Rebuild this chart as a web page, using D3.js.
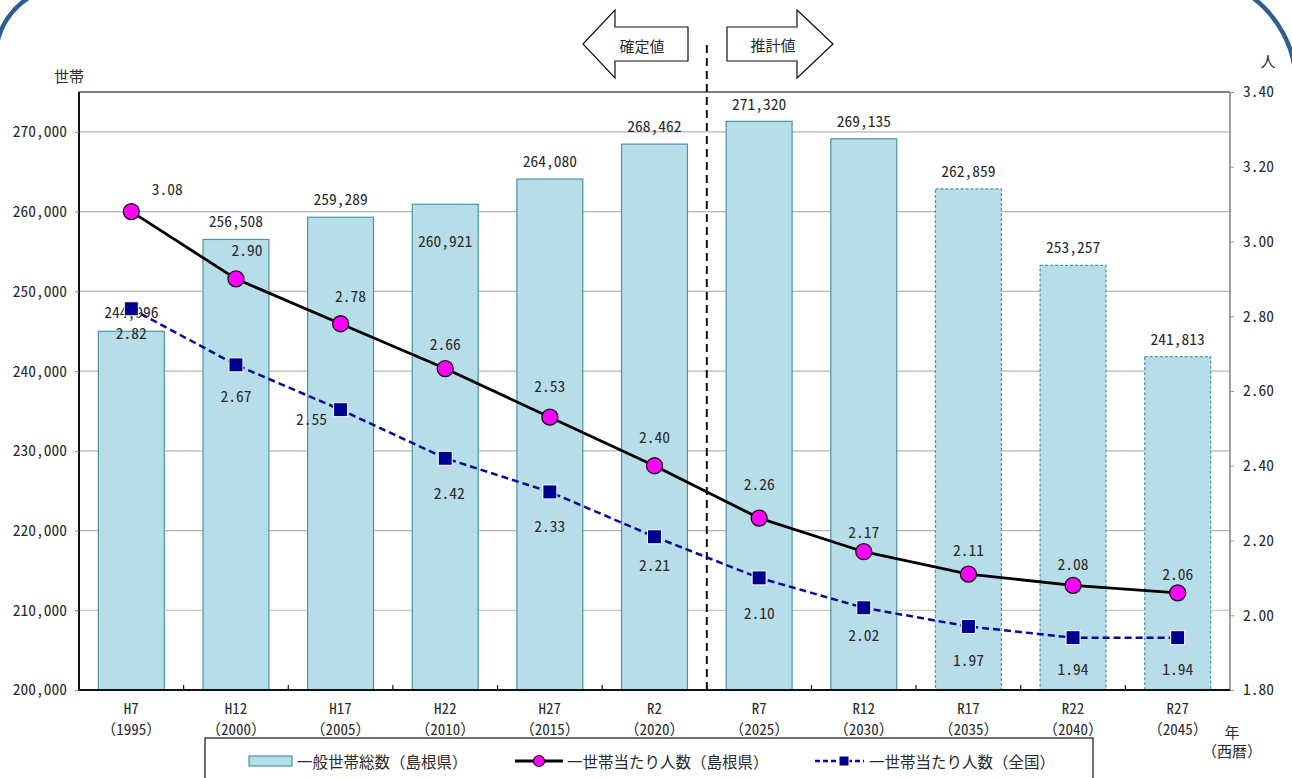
<!DOCTYPE html>
<html lang="ja">
<head>
<meta charset="utf-8">
<script src="https://cdn.jsdelivr.net/npm/d3@7"></script>
<style>
  html, body { margin: 0; padding: 0; background: #fff; }
  svg { display: block; }
  text { font-family: "Noto Sans Mono CJK JP", "Noto Sans CJK JP", "DejaVu Sans Mono", monospace; fill: #2a2a2a; font-weight: 300; }
</style>
</head>
<body>
<svg id="chart" width="1292" height="778"></svg>
<script>
// 年次（和暦・西暦）
const eraLabels  = ["H7", "H12", "H17", "H22", "H27", "R2", "R7", "R12", "R17", "R22", "R27"];
const yearLabels = ["1995", "2000", "2005", "2010", "2015", "2020", "2025", "2030", "2035", "2040", "2045"];
// 一般世帯総数（島根県）
const households = [244996, 256508, 259289, 260921, 264080, 268462, 271320, 269135, 262859, 253257, 241813];
// 一世帯当たり人数（島根県）
const perHouseholdShimane = [3.08, 2.90, 2.78, 2.66, 2.53, 2.40, 2.26, 2.17, 2.11, 2.08, 2.06];
// 一世帯当たり人数（全国）
const perHouseholdNation = [2.82, 2.67, 2.55, 2.42, 2.33, 2.21, 2.10, 2.02, 1.97, 1.94, 1.94];
// 推計値の開始位置（R7以降）と破線枠の棒（R17以降）
const estimateStart = 6;
const dashedFrom = 8;
// 目盛
const leftTicks  = [200000, 210000, 220000, 230000, 240000, 250000, 260000, 270000];
const rightTicks = [1.8, 2.0, 2.2, 2.4, 2.6, 2.8, 3.0, 3.2, 3.4];

// ラベル配置の微調整（点からのずれ）
const barLabelDy = [-20, -19, -19, 36, -19, -19, -18, -19, -19, -19, -19];
const shimaneLabelOffset = [[36,-24],[11,-30],[10,-29],[0,-26],[0,-32],[0,-30],[0,-35],[0,-21],[0,-25],[0,-22],[0,-20]];
const nationLabelOffset  = [[0,23],[0,30],[-29,8],[4,34],[0,33],[0,27],[0,34],[0,26],[0,33],[0,30],[0,30]];

const svg = d3.select("#chart");
const plot = { left: 79, right: 1230, top: 92, bottom: 690 };

const x = d3.scaleBand().domain(eraLabels).range([plot.left, plot.right]).padding(0);
const barW = x.bandwidth() * 0.63;
const cx = d => x(d) + x.bandwidth() / 2;
const yL = d3.scaleLinear().domain([200000, 275000]).range([plot.bottom, plot.top]);
const yR = d3.scaleLinear().domain([1.8, 3.4]).range([plot.bottom, plot.top]);

const fmtInt = d3.format(",");
const fmt2 = d3.format(".2f");

// 外枠の角（丸みのある枠線）
svg.append("path").attr("d", "M-3,44 A70,70 0 0 1 30,-3")
  .attr("fill", "none").attr("stroke", "#2f5d8f").attr("stroke-width", 4.5);
svg.append("path").attr("d", "M1252,-3 A110,110 0 0 1 1296,80")
  .attr("fill", "none").attr("stroke", "#2f5d8f").attr("stroke-width", 4.5);

// 目盛線
svg.append("g").selectAll("line").data(leftTicks.slice(1)).join("line")
  .attr("x1", plot.left).attr("x2", plot.right)
  .attr("y1", d => yL(d)).attr("y2", d => yL(d))
  .attr("stroke", "#b4b4b4").attr("stroke-width", 1.2);

// 上枠線
svg.append("line").attr("x1", plot.left).attr("x2", plot.right)
  .attr("y1", plot.top).attr("y2", plot.top)
  .attr("stroke", "#555").attr("stroke-width", 1.5);

// 一般世帯総数の棒
svg.append("g").selectAll("rect").data(households).join("rect")
  .attr("x", (d, i) => cx(eraLabels[i]) - barW / 2)
  .attr("y", d => yL(d))
  .attr("width", barW)
  .attr("height", d => yL(200000) - yL(d))
  .attr("fill", "#b7dde8")
  .attr("stroke", "#4a95a8")
  .attr("stroke-width", 1.2)
  .attr("stroke-dasharray", (d, i) => i >= dashedFrom ? "3,2" : null);

const tickFont = '"Noto Sans Mono CJK JP", "Noto Sans CJK JP", monospace';

// 左軸
const axisL = svg.append("g").attr("transform", `translate(${plot.left},0)`)
  .call(d3.axisLeft(yL).tickValues(leftTicks).tickSize(4).tickPadding(8).tickFormat(fmtInt));
axisL.select(".domain").attr("stroke", "#111").attr("stroke-width", 2).attr("d", `M0,${plot.top}V${plot.bottom}`);
axisL.selectAll(".tick line").attr("stroke", "#888");
axisL.selectAll(".tick text").attr("font-size", 15.5).attr("fill", "#2a2a2a").style("font-family", tickFont);

// 右軸
const axisR = svg.append("g").attr("transform", `translate(${plot.right},0)`)
  .call(d3.axisRight(yR).tickValues(rightTicks).tickSize(4).tickPadding(9).tickFormat(fmt2));
axisR.select(".domain").attr("stroke", "#808080").attr("stroke-width", 1.5).attr("d", `M0,${plot.top}V${plot.bottom}`);
axisR.selectAll(".tick line").attr("stroke", "#999");
axisR.selectAll(".tick text").attr("font-size", 15.5).attr("fill", "#2a2a2a").style("font-family", tickFont);

// 下軸（区切り目盛は内向き）
const boundaries = d3.range(1, eraLabels.length).map(i => plot.left + i * x.step());
svg.append("line").attr("x1", plot.left).attr("x2", plot.right)
  .attr("y1", plot.bottom).attr("y2", plot.bottom)
  .attr("stroke", "#111").attr("stroke-width", 2);
svg.append("g").selectAll("line").data(boundaries).join("line")
  .attr("x1", d => d).attr("x2", d => d)
  .attr("y1", plot.bottom).attr("y2", plot.bottom - 5)
  .attr("stroke", "#111").attr("stroke-width", 1.2);

const xLab = svg.append("g").attr("font-size", 15).attr("text-anchor", "middle");
xLab.selectAll("text.era").data(eraLabels).join("text").attr("class", "era")
  .attr("x", d => cx(d)).attr("y", 707).attr("dominant-baseline", "central").text(d => d);
xLab.selectAll("text.yr").data(yearLabels).join("text").attr("class", "yr")
  .attr("x", (d, i) => cx(eraLabels[i])).attr("y", 728).attr("dominant-baseline", "central")
  .text(d => `（${d}）`);

// 確定値／推計値の境界線
svg.append("line")
  .attr("x1", plot.left + estimateStart * x.step()).attr("x2", plot.left + estimateStart * x.step())
  .attr("y1", 45).attr("y2", plot.bottom)
  .attr("stroke", "#111").attr("stroke-width", 2).attr("stroke-dasharray", "8,5");

// 矢印
const arrowL = "M583,44 L615,10 L615,27 L688,27 L688,61 L615,61 L615,78 Z";
const arrowR = "M833,44 L797,10 L797,27 L727,27 L727,61 L797,61 L797,78 Z";
svg.append("path").attr("d", arrowL).attr("fill", "#fff").attr("stroke", "#111").attr("stroke-width", 1.2);
svg.append("path").attr("d", arrowR).attr("fill", "#fff").attr("stroke", "#111").attr("stroke-width", 1.2);
svg.append("text").attr("x", 642).attr("y", 45).attr("text-anchor", "middle")
  .attr("dominant-baseline", "central").attr("font-size", 15).text("確定値");
svg.append("text").attr("x", 773).attr("y", 44).attr("text-anchor", "middle")
  .attr("dominant-baseline", "central").attr("font-size", 15).text("推計値");

// 軸の単位
svg.append("text").attr("x", 69).attr("y", 75).attr("text-anchor", "middle")
  .attr("dominant-baseline", "central").attr("font-size", 15).text("世帯");
svg.append("text").attr("x", 1268).attr("y", 60).attr("text-anchor", "middle")
  .attr("dominant-baseline", "central").attr("font-size", 15).text("人");
svg.append("text").attr("x", 1232).attr("y", 731).attr("text-anchor", "middle")
  .attr("dominant-baseline", "central").attr("font-size", 15).text("年");
svg.append("text").attr("x", 1232).attr("y", 750).attr("text-anchor", "middle")
  .attr("dominant-baseline", "central").attr("font-size", 15).text("（西暦）");

// 折れ線
const lineGen = d3.line().x((d, i) => cx(eraLabels[i])).y(d => yR(d));
svg.append("path").datum(perHouseholdNation).attr("d", lineGen)
  .attr("fill", "none").attr("stroke", "#0a0a96").attr("stroke-width", 2.5).attr("stroke-dasharray", "7,4");
svg.append("path").datum(perHouseholdShimane).attr("d", lineGen)
  .attr("fill", "none").attr("stroke", "#000").attr("stroke-width", 2.8);

// 棒の値ラベル
svg.append("g").attr("font-size", 15.5).attr("text-anchor", "middle")
  .selectAll("text").data(households).join("text")
  .attr("x", (d, i) => cx(eraLabels[i]))
  .attr("y", (d, i) => yL(d) + barLabelDy[i])
  .attr("dominant-baseline", "central")
  .text(d => fmtInt(d));

// 全国のマーカー
svg.append("g").selectAll("rect").data(perHouseholdNation).join("rect")
  .attr("x", (d, i) => cx(eraLabels[i]) - 7).attr("y", d => yR(d) - 7)
  .attr("width", 14).attr("height", 14)
  .attr("fill", "#00008f").attr("stroke", "#fff").attr("stroke-width", 1);

// 島根県のマーカー
svg.append("g").selectAll("circle").data(perHouseholdShimane).join("circle")
  .attr("cx", (d, i) => cx(eraLabels[i])).attr("cy", d => yR(d)).attr("r", 8)
  .attr("fill", "#ff00ff").attr("stroke", "#111").attr("stroke-width", 1.3);

// 人数ラベル
svg.append("g").attr("font-size", 15.5).attr("text-anchor", "middle")
  .selectAll("text").data(perHouseholdShimane).join("text")
  .attr("x", (d, i) => cx(eraLabels[i]) + shimaneLabelOffset[i][0])
  .attr("y", (d, i) => yR(d) + shimaneLabelOffset[i][1])
  .attr("dominant-baseline", "central").text(d => fmt2(d));
svg.append("g").attr("font-size", 15.5).attr("text-anchor", "middle")
  .selectAll("text").data(perHouseholdNation).join("text")
  .attr("x", (d, i) => cx(eraLabels[i]) + nationLabelOffset[i][0])
  .attr("y", (d, i) => yR(d) + nationLabelOffset[i][1])
  .attr("dominant-baseline", "central").text(d => fmt2(d));

// 凡例
const legend = svg.append("g");
legend.append("rect").attr("x", 205).attr("y", 738).attr("width", 888).attr("height", 60)
  .attr("fill", "#fff").attr("stroke", "#111").attr("stroke-width", 1.2);
const ly = 761;
legend.append("rect").attr("x", 249).attr("y", ly - 5).attr("width", 43).attr("height", 10)
  .attr("fill", "#b7dde8").attr("stroke", "#4a95a8").attr("stroke-width", 1.2);
legend.append("text").attr("x", 297).attr("y", ly).attr("dominant-baseline", "central")
  .attr("font-size", 15.5).text("一般世帯総数（島根県）");
legend.append("line").attr("x1", 515).attr("x2", 563).attr("y1", ly).attr("y2", ly)
  .attr("stroke", "#000").attr("stroke-width", 2.8);
legend.append("circle").attr("cx", 539).attr("cy", ly).attr("r", 5.5)
  .attr("fill", "#ff00ff").attr("stroke", "#111").attr("stroke-width", 1.2);
legend.append("text").attr("x", 567).attr("y", ly).attr("dominant-baseline", "central")
  .attr("font-size", 15.5).text("一世帯当たり人数（島根県）");
legend.append("line").attr("x1", 815).attr("x2", 864).attr("y1", ly).attr("y2", ly)
  .attr("stroke", "#0a0a96").attr("stroke-width", 2.5).attr("stroke-dasharray", "5,3");
legend.append("rect").attr("x", 839).attr("y", ly - 5).attr("width", 10).attr("height", 10)
  .attr("fill", "#00008f").attr("stroke", "#fff").attr("stroke-width", 1);
legend.append("text").attr("x", 869).attr("y", ly).attr("dominant-baseline", "central")
  .attr("font-size", 15.5).text("一世帯当たり人数（全国）");
</script>
</body>
</html>
